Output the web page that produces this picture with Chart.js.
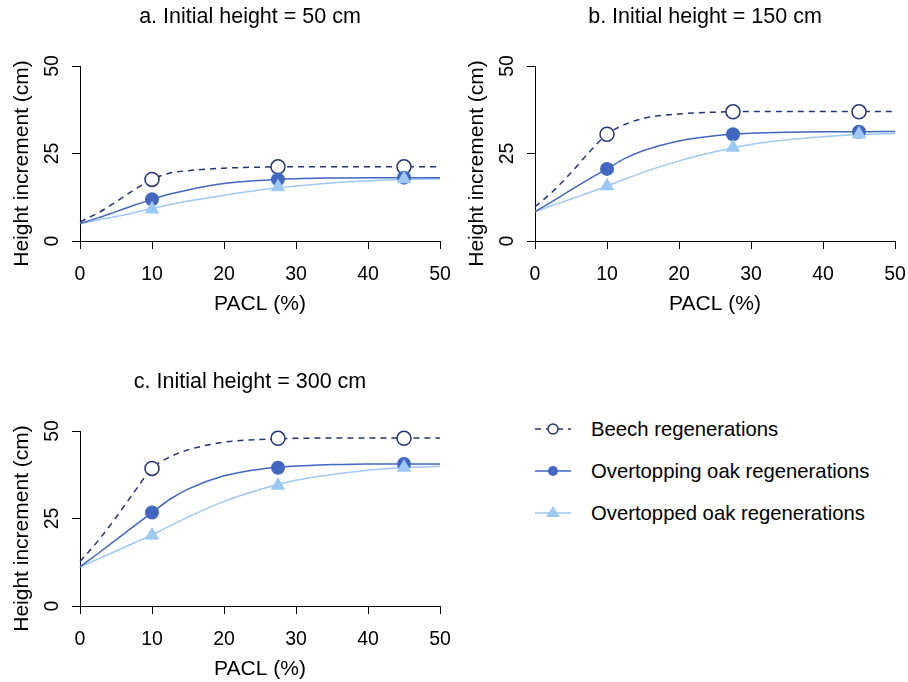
<!DOCTYPE html>
<html>
<head>
<meta charset="utf-8">
<script src="https://cdn.jsdelivr.net/npm/chart.js@4"></script>
<style>
  body { margin: 0; background: #fff; font-family: "Liberation Sans", Arial, sans-serif; }
  #wrap { position: relative; width: 908px; height: 682px; overflow: hidden; }
  .panel { position: absolute; width: 454px; height: 320px; }
  #legend { position: absolute; left: 533px; top: 408px; font-size: 20.3px; color: #000; }
  #legend .row { height: 42px; display: flex; align-items: center; }
  #legend svg { margin-right: 18px; }
</style>
</head>
<body>
<div id="wrap">
  <div class="panel" style="left:0;top:0"><canvas id="pa"></canvas></div>
  <div class="panel" style="left:455px;top:0"><canvas id="pb"></canvas></div>
  <div class="panel" style="left:0;top:365px"><canvas id="pc"></canvas></div>
  <div id="legend">
    <div class="row">
      <svg width="40" height="20"><line x1="2" y1="10" x2="38" y2="10" stroke="#23357a" stroke-width="1.5" stroke-dasharray="6,5"/><circle cx="20" cy="10" r="5" fill="#fff" stroke="#23357a" stroke-width="1.5"/></svg>
      <span>Beech regenerations</span>
    </div>
    <div class="row">
      <svg width="40" height="20"><line x1="2" y1="10" x2="38" y2="10" stroke="#4167c2" stroke-width="1.5"/><circle cx="20" cy="10" r="5" fill="#4167c2"/></svg>
      <span>Overtopping oak regenerations</span>
    </div>
    <div class="row">
      <svg width="40" height="20"><line x1="2" y1="10" x2="38" y2="10" stroke="#9dc9f5" stroke-width="1.5"/><polygon points="20,3 27,14 13,14" fill="#9dc9f5"/></svg>
      <span>Overtopped oak regenerations</span>
    </div>
  </div>
</div>
<script>
// PACL values where the fitted curves were read, and where the measured means sit
const curveX = [0, 2.5, 5, 7.5, 10, 12.5, 15, 20, 25, 30, 35, 40, 45, 50];
const markerX = [10, 27.5, 45];

// a. initial height 50 cm
const beechCurveA = [5.5, 8.0, 11.2, 14.6, 17.6, 19.4, 20.1, 20.8, 21.1, 21.2, 21.2, 21.2, 21.2, 21.2];
const overtoppingCurveA = [5.0, 6.6, 8.4, 10.2, 11.9, 13.4, 14.6, 16.4, 17.3, 17.8, 18.0, 18.1, 18.1, 18.1];
const overtoppedCurveA = [5.0, 6.0, 7.0, 8.1, 9.3, 10.4, 11.4, 13.1, 14.6, 15.7, 16.6, 17.2, 17.6, 17.8];
const beechPtsA = [17.6, 21.2, 21.2];
const overtoppingPtsA = [11.9, 17.6, 18.1];
const overtoppedPtsA = [9.1, 15.4, 17.7];

// b. initial height 150 cm
const beechCurveB = [9.8, 14.2, 19.5, 25.3, 30.5, 33.3, 35.0, 36.3, 36.8, 37.0, 37.0, 37.0, 37.0, 37.0];
const overtoppingCurveB = [8.4, 11.4, 14.6, 17.7, 20.6, 23.6, 25.8, 28.6, 30.1, 30.8, 31.1, 31.2, 31.2, 31.3];
const overtoppedCurveB = [8.4, 10.2, 12.0, 13.8, 15.7, 17.7, 19.6, 22.9, 25.5, 27.6, 28.9, 29.8, 30.4, 30.7];
const beechPtsB = [30.5, 36.9, 36.9];
const overtoppingPtsB = [20.6, 30.5, 31.2];
const overtoppedPtsB = [15.7, 26.7, 30.5];

// c. initial height 300 cm
const beechCurveC = [12.7, 18.6, 25.3, 32.5, 39.3, 42.6, 44.6, 46.8, 47.6, 47.9, 48.0, 48.0, 48.0, 48.0];
const overtoppingCurveC = [11.2, 15.0, 18.9, 22.8, 26.7, 30.5, 33.4, 37.2, 39.1, 40.0, 40.4, 40.6, 40.6, 40.6];
const overtoppedCurveC = [11.2, 13.4, 15.7, 18.0, 20.3, 22.9, 25.4, 29.9, 33.3, 35.9, 37.6, 38.8, 39.5, 39.9];
const beechPtsC = [39.3, 47.9, 47.9];
const overtoppingPtsC = [26.7, 39.5, 40.6];
const overtoppedPtsC = [20.2, 34.4, 39.6];

const xTicks = [0, 10, 20, 30, 40, 50];
const yTicks = [0, 25, 50];

const BEECH = '#23357a', OVERTOPPING = '#4167c2', OVERTOPPED = '#9dc9f5';
const FONT = '"Liberation Sans", Arial, sans-serif';

const pairs = (xs, ys) => xs.map((x, i) => ({x: x, y: ys[i]}));

// panel title and the y axis label, placed the way R puts them
const panelText = {
  id: 'panelText',
  afterDraw(chart, args, opts) {
    const ctx = chart.ctx, a = chart.chartArea;
    ctx.save();
    ctx.fillStyle = '#000';
    ctx.textAlign = 'center';
    ctx.textBaseline = 'middle';
    ctx.font = '21.5px ' + FONT;
    ctx.fillText(opts.title, (a.left + a.right) / 2 - 10, 17);
    ctx.font = '21px ' + FONT;
    ctx.translate(22, (a.top + a.bottom) / 2 + 10);
    ctx.rotate(-Math.PI / 2);
    ctx.fillText(opts.yLabel, 0, 0);
    ctx.restore();
  }
};

function makePanel(id, title, curves, pts) {
  const line = (data, color, dash) => ({
    type: 'line', data: pairs(curveX, data), borderColor: color, borderWidth: 1.5,
    borderDash: dash || [], pointRadius: 0, fill: false, cubicInterpolationMode: 'monotone', order: 2
  });
  const marks = (data, color, style, hollow, r) => ({
    type: 'scatter', data: pairs(markerX, data), showLine: false, pointStyle: style,
    pointRadius: r, backgroundColor: hollow ? '#fff' : color, borderColor: color,
    borderWidth: hollow ? 1.5 : 0, order: 1
  });
  new Chart(document.getElementById(id), {
    type: 'line',
    data: {
      datasets: [
        line(curves[0], BEECH, [6, 5]),
        line(curves[1], OVERTOPPING),
        line(curves[2], OVERTOPPED),
        marks(pts[2], OVERTOPPED, 'triangle', false, 8.5),
        marks(pts[1], OVERTOPPING, 'circle', false, 7),
        marks(pts[0], BEECH, 'circle', true, 7)
      ]
    },
    options: {
      responsive: false,
      animation: false,
      clip: false,
      layout: { padding: { left: 0, top: 66, right: 14, bottom: 0 } },
      plugins: {
        legend: { display: false }, tooltip: { enabled: false },
        panelText: { title: title, yLabel: 'Height increment (cm)' }
      },
      scales: {
        x: {
          type: 'linear', min: 0, max: 50,
          afterFit: s => { s.height = 79; s.paddingLeft = 0; s.paddingRight = 0; },
          afterBuildTicks: s => { s.ticks = xTicks.map(v => ({value: v})); },
          grid: { drawOnChartArea: false, tickLength: 8, tickColor: '#000', tickWidth: 1 },
          border: { color: '#000', width: 1 },
          ticks: { color: '#000', font: { size: 19.5, family: FONT }, padding: 14, maxRotation: 0 },
          title: { display: true, text: 'PACL (%)', color: '#000', font: { size: 21, family: FONT }, padding: { top: 0, bottom: 3 } }
        },
        y: {
          type: 'linear', min: 0, max: 50,
          afterFit: s => { s.width = 80; s.paddingTop = 0; s.paddingBottom = 0; },
          afterBuildTicks: s => { s.ticks = yTicks.map(v => ({value: v})); },
          grid: { drawOnChartArea: false, tickLength: 8, tickColor: '#000', tickWidth: 1 },
          border: { color: '#000', width: 1 },
          ticks: { color: '#000', font: { size: 19.5, family: FONT }, padding: 9, minRotation: 90, maxRotation: 90, crossAlign: 'center' }
        }
      }
    },
    plugins: [panelText]
  });
}

function sizeCanvas(id) {
  const c = document.getElementById(id);
  c.width = 454; c.height = 320;
}
['pa', 'pb', 'pc'].forEach(sizeCanvas);

makePanel('pa', 'a. Initial height = 50 cm',
  [beechCurveA, overtoppingCurveA, overtoppedCurveA], [beechPtsA, overtoppingPtsA, overtoppedPtsA]);
makePanel('pb', 'b. Initial height = 150 cm',
  [beechCurveB, overtoppingCurveB, overtoppedCurveB], [beechPtsB, overtoppingPtsB, overtoppedPtsB]);
makePanel('pc', 'c. Initial height = 300 cm',
  [beechCurveC, overtoppingCurveC, overtoppedCurveC], [beechPtsC, overtoppingPtsC, overtoppedPtsC]);
</script>
</body>
</html>
